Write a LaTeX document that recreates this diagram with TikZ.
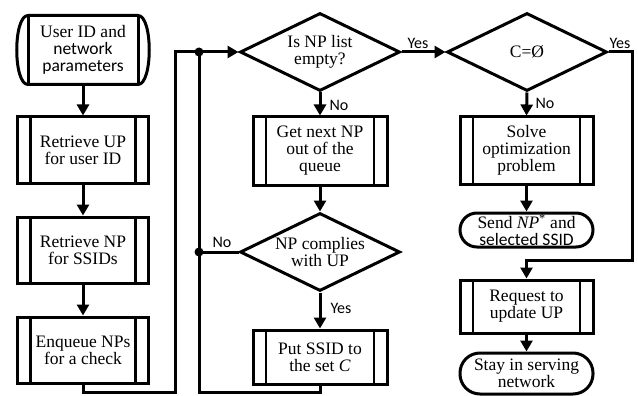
\documentclass[tikz,border=0pt]{standalone}
\usepackage{fontspec}
\setmainfont{Liberation Serif}
\newfontfamily\lblfont{Carlito}
\usetikzlibrary{shapes.geometric,arrows.meta}
\begin{document}
\begin{tikzpicture}[x=1pt,y=-1pt,line width=3pt,
  every node/.style={font=\fontsize{17.5}{17}\selectfont, align=center, inner sep=0pt},
  box/.style={draw, rectangle, minimum width=131pt, minimum height=66pt,
    path picture={\draw[line width=2.6pt]
      ([xshift=13pt]path picture bounding box.north west) -- ([xshift=13pt]path picture bounding box.south west)
      ([xshift=-13pt]path picture bounding box.north east) -- ([xshift=-13pt]path picture bounding box.south east);}},
  dec/.style={draw, diamond, aspect=2.2, minimum width=160pt, minimum height=78pt},
  stad/.style={draw, rectangle, minimum width=133pt},
  lbl/.style={font=\lblfont\fontsize{16}{16}\selectfont},
  arr/.style={-{Triangle[length=11pt,width=12pt]}},
  dot/.style={fill=black}
]
\useasboundingbox (0,0) rectangle (638,396);

% left column
\node[minimum width=107pt, minimum height=66pt] (s) at (83,50)
  {User ID and\\{\lblfont network}\\{\lblfont parameters}};
\draw (s.north west) -- (s.north east)
  .. controls ([xshift=15pt]s.north east) and ([xshift=15pt]s.south east) .. (s.south east)
  -- (s.south west)
  .. controls ([xshift=-15pt]s.south west) and ([xshift=-15pt]s.north west) .. (s.north west) -- cycle;
\draw (s.north west) -- (s.south west) (s.north east) -- (s.south east);

\node[box] (p1) at (83,150) {Retrieve UP\\for user ID};
\node[box] (p2) at (83,250) {Retrieve NP\\for SSIDs};
\node[box] (p3) at (83,350) {Enqueue NPs\\for a check};

% middle column
\node[dec] (d1) at (320,52) {Is NP list\\empty?};
\node[box, minimum width=134pt, minimum height=68pt] (g) at (320,151) {Get next NP\\out of the\\queue};
\node[dec] (d2) at (320,252) {NP complies\\with UP};
\node[box, minimum width=134pt, minimum height=54pt] (put) at (320,357) {Put SSID to\\the set \textit{C}};

% right column
\node[dec] (d3) at (527,52) {C=Ø};
\node[box, minimum width=133pt, minimum height=67pt] (solve) at (526.5,150.5) {Solve\\optimization\\problem};
\node[stad, minimum height=34pt, rounded corners=17pt] (send) at (526.5,230)
  {Send \textit{NP}\textsuperscript{*} and\\{\lblfont selected SSID}};
\node[box, minimum width=133pt, minimum height=53pt] (req) at (526.5,306.5) {Request to\\update UP};
\node[stad, minimum height=41pt, rounded corners=20pt] (stay) at (526.5,373.5) {Stay in serving\\network};

% junctions
\coordinate (j1) at (199,52);
\coordinate (j2) at (199,252);
\coordinate (c1) at (83,392);
\coordinate (c2) at (175,392);
\coordinate (c3) at (175,52);
\coordinate (c4) at (199,392);
\coordinate (c5) at (320,392);
\coordinate (r1) at (632,52);
\coordinate (r2) at (632,260);
\coordinate (r3) at (526.5,260);

% connectors
\draw[arr] (s) -- (p1);
\draw[arr] (p1) -- (p2);
\draw[arr] (p2) -- (p3);
\draw[arr] (p3.south) -- (c1) -- (c2) -- (c3) -- (d1.west);
\draw (put.south) -- (c5) -- (c4) -- (j1);
\draw (d2.west) -- (j2);
\fill[dot] (j1) circle (4.5pt);
\fill[dot] (j2) circle (4.5pt);
\draw[arr] (d1.south) -- (g.north);
\draw[arr] (g.south) -- (d2.north);
\draw[arr] (d2.south) -- (put.north);
\draw[arr] (d1.east) -- (d3.west);
\draw[arr] (d3.south) -- (solve.north);
\draw[arr] (solve.south) -- (send.north);
\draw[arr] (d3.east) -- (r1) -- (r2) -- (r3) -- (req.north);
\draw[arr] (req.south) -- (stay.north);

% labels
\node[lbl] (lno1) at (339,105) {No};
\node[lbl] (lno2) at (222,242) {No};
\node[lbl] (lyes2) at (341,308) {Yes};
\node[lbl] (lyes1) at (418,43) {Yes};
\node[lbl] (lno3) at (545,103) {No};
\node[lbl] (lyes3) at (620,43) {Yes};
\end{tikzpicture}
\end{document}
